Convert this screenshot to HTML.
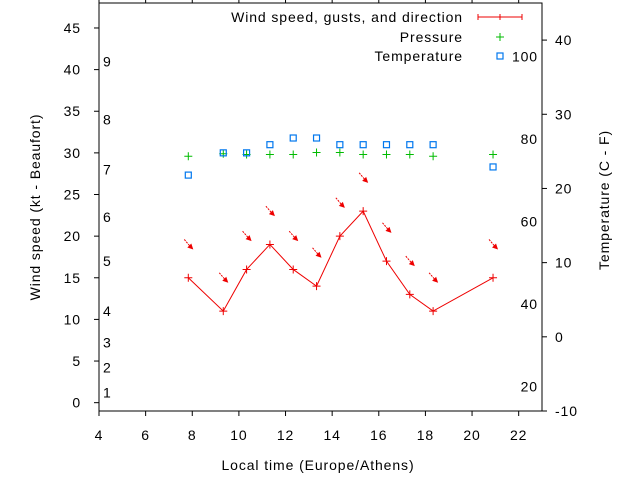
<!DOCTYPE html>
<html><head><meta charset="utf-8">
<style>
html,body{margin:0;padding:0;background:#fff;}
svg{display:block;font-family:"Liberation Sans",sans-serif;}
svg text{letter-spacing:0.9px;}
</style></head>
<body>
<svg id="chart" width="640" height="480" viewBox="0 0 640 480">
<rect x="0" y="0" width="640" height="480" fill="#fff"/>
<g id="grid"></g>
<g id="marks"></g>
<rect x="99" y="3" width="443" height="408" fill="none" stroke="#000" stroke-width="1"/>
<text x="318" y="470" text-anchor="middle" font-size="14">Local time (Europe/Athens)</text>
<text transform="translate(40,207) rotate(-90)" text-anchor="middle" font-size="14">Wind speed (kt - Beaufort)</text>
<text transform="translate(609,200) rotate(-90)" text-anchor="middle" font-size="14">Temperature (C - F)</text>
<g>
  <g>
    <text x="463" y="22" text-anchor="end" font-size="14">Wind speed, gusts, and direction</text>
    <line x1="478" y1="17" x2="522" y2="17" stroke="#e00" stroke-width="1"/>
    <line x1="478" y1="14" x2="478" y2="20" stroke="#e00"/>
    <line x1="522" y1="14" x2="522" y2="20" stroke="#e00"/>
    <line x1="500" y1="14" x2="500" y2="20" stroke="#e00"/>
  </g>
  <g>
    <text x="463" y="42" text-anchor="end" font-size="14">Pressure</text>
    <path d="M496,37 h8 M500,33 v8" stroke="#0b0" stroke-width="1"/>
  </g>
  <g>
    <text x="463" y="61" text-anchor="end" font-size="14">Temperature</text>
    <rect x="497" y="53" width="6" height="6" fill="none" stroke="#07e" stroke-width="1.2"/>
  </g>
</g>
</svg>
<script>
const times = [7.83, 9.33, 10.33, 11.33, 12.33, 13.33, 14.33, 15.33, 16.33, 17.33, 18.33, 20.9];
const windSpeed = [15, 11, 16, 19, 16, 14, 20, 23, 17, 13, 11, 15];
const gusts = [19, 15, 20, 23, 20, 18, 24, 27, 21, 17, 15, 19];
const pressure = [29.6, 29.9, 29.8, 29.8, 29.8, 30.05, 30.05, 29.8, 29.8, 29.8, 29.6, 29.8];
const tempC = [21.8, 24.8, 24.8, 25.9, 26.8, 26.8, 25.9, 25.9, 25.9, 25.9, 25.9, 22.9];
const xTicks = [4, 6, 8, 10, 12, 14, 16, 18, 20, 22];
const yTicks = [0, 5, 10, 15, 20, 25, 30, 35, 40, 45];
const y2Ticks = [-10, 0, 10, 20, 30, 40];
const fahrenheitLabels = [20, 40, 60, 80, 100];
const beaufortLabels = ["1", "2", "3", "4", "5", "6", "7", "8", "9"];
const beaufortKt = [1.2, 4.2, 7.2, 11, 17, 22.3, 28, 34, 41];

const L=99,R=542,T=3,B=411;
const xS=v=>L+(v-4)/(23-4)*(R-L);
const yS=v=>B-(v+1)/(48+1)*(B-T);
const y2S=c=>B-(c+10)/(45+10)*(B-T);
const NS="http://www.w3.org/2000/svg";
const grid=document.getElementById('grid'), marks=document.getElementById('marks');
function mk(tag,attrs,parent){const e=document.createElementNS(NS,tag);for(const k in attrs)e.setAttribute(k,attrs[k]);parent.appendChild(e);return e;}

xTicks.forEach(v=>{
  const x=xS(v);
  const t=mk('line',{x1:x,y1:B,x2:x,y2:B+5,stroke:'#000'},grid);
  
  
  const t2=mk('line',{x1:x,y1:T,x2:x,y2:T-5,stroke:'#000'},grid);
  
  
  const l=mk('text',{x:x,y:440,'text-anchor':'middle','font-size':14},grid);
  l.textContent=v;
  
  
});
yTicks.forEach(v=>{
  const y=yS(v);
  const t=mk('line',{x1:L-5,y1:y,x2:L,y2:y,stroke:'#000'},grid);
  
  
  const l=mk('text',{x:81,y:y+5,'text-anchor':'end','font-size':14},grid);
  l.textContent=v;
  
  
});
y2Ticks.forEach(v=>{
  const y=y2S(v);
  const t=mk('line',{x1:R,y1:y,x2:R+5,y2:y,stroke:'#000'},grid);
  
  
  const l=mk('text',{x:555,y:y+5,'text-anchor':'start','font-size':14},grid);
  l.textContent=v;
  
  
});
fahrenheitLabels.forEach(f=>{
  const c=(f-32)*5/9;
  const l=mk('text',{x:538,y:y2S(c)+5,'text-anchor':'end','font-size':14},grid);
  l.textContent=f;
  
  
});
beaufortLabels.forEach((b,i)=>{
  const l=mk('text',{x:103,y:yS(beaufortKt[i])+5,'text-anchor':'start','font-size':14},grid);
  l.textContent=b;
  
  
});

const pts=times.map((t,i)=>xS(t)+','+yS(windSpeed[i])).join(' ');
const line=mk('polyline',{points:pts,fill:'none',stroke:'#e00','stroke-width':1},marks);


times.forEach((t,i)=>{
  const x=xS(t),y=yS(windSpeed[i]);
  const p=mk('path',{d:`M${x-4},${y}h8M${x},${y-4}v8`,stroke:'#e00','stroke-width':1},marks);
  
  
  const gy=yS(gusts[i]);
  const a=mk('g',{},marks);
  
  
  mk('line',{x1:x-4,y1:gy-5,x2:x+2,y2:gy+2,stroke:'#e00','stroke-width':1,'stroke-dasharray':'2,1'},a);
  mk('path',{d:`M${x+5},${gy+5}L${x-1},${gy+3}L${x+3},${gy-1}Z`,fill:'#e00'},a);
});
times.forEach((t,i)=>{
  const x=xS(t),y=yS(pressure[i]);
  const p=mk('path',{d:`M${x-4},${y}h8M${x},${y-4}v8`,stroke:'#0b0','stroke-width':1},marks);
  
  
});
times.forEach((t,i)=>{
  const x=xS(t),y=y2S(tempC[i]);
  const r=mk('rect',{x:x-3,y:y-3,width:6,height:6,fill:'none',stroke:'#07e','stroke-width':1.2},marks);
  
  
});
</script>
</body></html>
